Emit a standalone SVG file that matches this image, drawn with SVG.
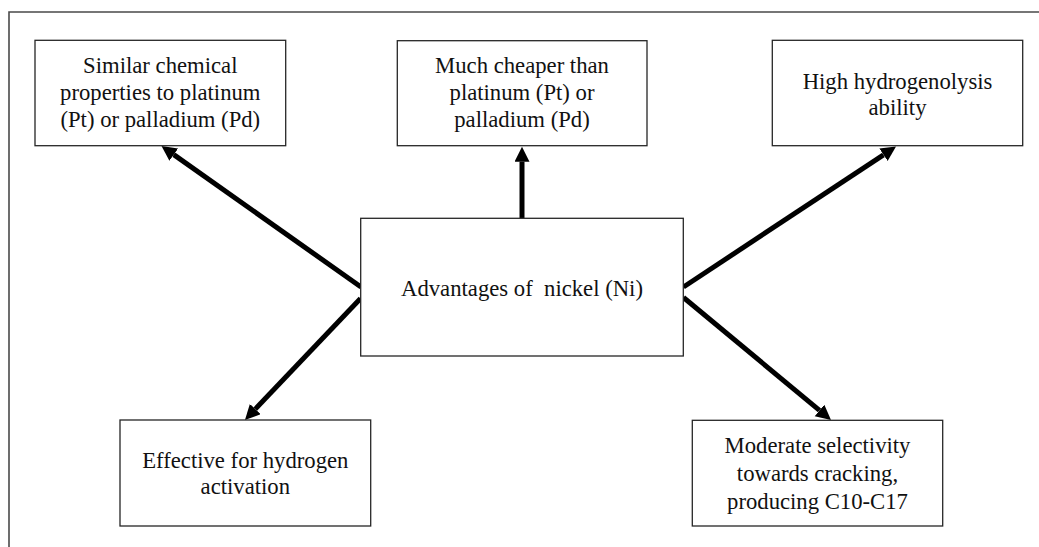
<svg xmlns="http://www.w3.org/2000/svg" width="1039" height="547" viewBox="0 0 1039 547">
<style>
.box{fill:#fff;stroke:#262626;stroke-width:1.3}
.t{font-family:"Liberation Serif","Times New Roman",serif;font-size:22.7px;fill:#111;text-anchor:middle}
.c{stroke:#000;stroke-width:5;fill:none}
</style>
<defs>
<marker id="ah" markerUnits="userSpaceOnUse" markerWidth="16" markerHeight="16" viewBox="0 0 16 16" refX="0" refY="7.5" orient="auto">
<path d="M0,0 L15,7.5 L0,15 Z" fill="#000"/>
</marker>
</defs>
<rect width="1039" height="547" fill="#fff"/>
<path d="M9,547 V12 H1039" fill="none" stroke="#4a4a4a" stroke-width="1.6"/>
<g id="connectors">
<line class="c" x1="361" y1="287" x2="173.75" y2="154.66" marker-end="url(#ah)"/>
<line class="c" x1="522" y1="218" x2="522" y2="161.7" marker-end="url(#ah)"/>
<line class="c" x1="683.5" y1="287" x2="883.5" y2="154.8" marker-end="url(#ah)"/>
<line class="c" x1="360.5" y1="298.5" x2="255.3" y2="409.1" marker-end="url(#ah)"/>
<line class="c" x1="683.5" y1="297.5" x2="819.5" y2="410.4" marker-end="url(#ah)"/>
</g>
<g id="center">
<rect class="box" x="360.7" y="218.3" width="322.6" height="137.7"/>
<text class="t" x="522" y="296" xml:space="preserve">Advantages of  nickel (Ni)</text>
</g>
<g id="pt-similar">
<rect class="box" x="35" y="40.3" width="250.7" height="105.4"/>
<text class="t" x="160.3" y="72.7">Similar chemical</text>
<text class="t" x="160.3" y="99.5">properties to platinum</text>
<text class="t" x="160.3" y="126.5">(Pt) or palladium (Pd)</text>
</g>
<g id="cheaper">
<rect class="box" x="397.3" y="40.7" width="249.7" height="105"/>
<text class="t" x="522" y="72.5">Much cheaper than</text>
<text class="t" x="522" y="99.5">platinum (Pt) or</text>
<text class="t" x="522" y="127">palladium (Pd)</text>
</g>
<g id="hydrogenolysis">
<rect class="box" x="772.3" y="40.3" width="250.4" height="105.4"/>
<text class="t" x="897.5" y="88.5">High hydrogenolysis</text>
<text class="t" x="897.5" y="115">ability</text>
</g>
<g id="activation">
<rect class="box" x="120" y="420" width="250.7" height="106"/>
<text class="t" x="245.3" y="468">Effective for hydrogen</text>
<text class="t" x="245.3" y="494">activation</text>
</g>
<g id="cracking">
<rect class="box" x="692.3" y="420.3" width="250.4" height="105.7"/>
<text class="t" x="817.5" y="453">Moderate selectivity</text>
<text class="t" x="817.5" y="481">towards cracking,</text>
<text class="t" x="817.5" y="508.5">producing C10-C17</text>
</g>
</svg>
